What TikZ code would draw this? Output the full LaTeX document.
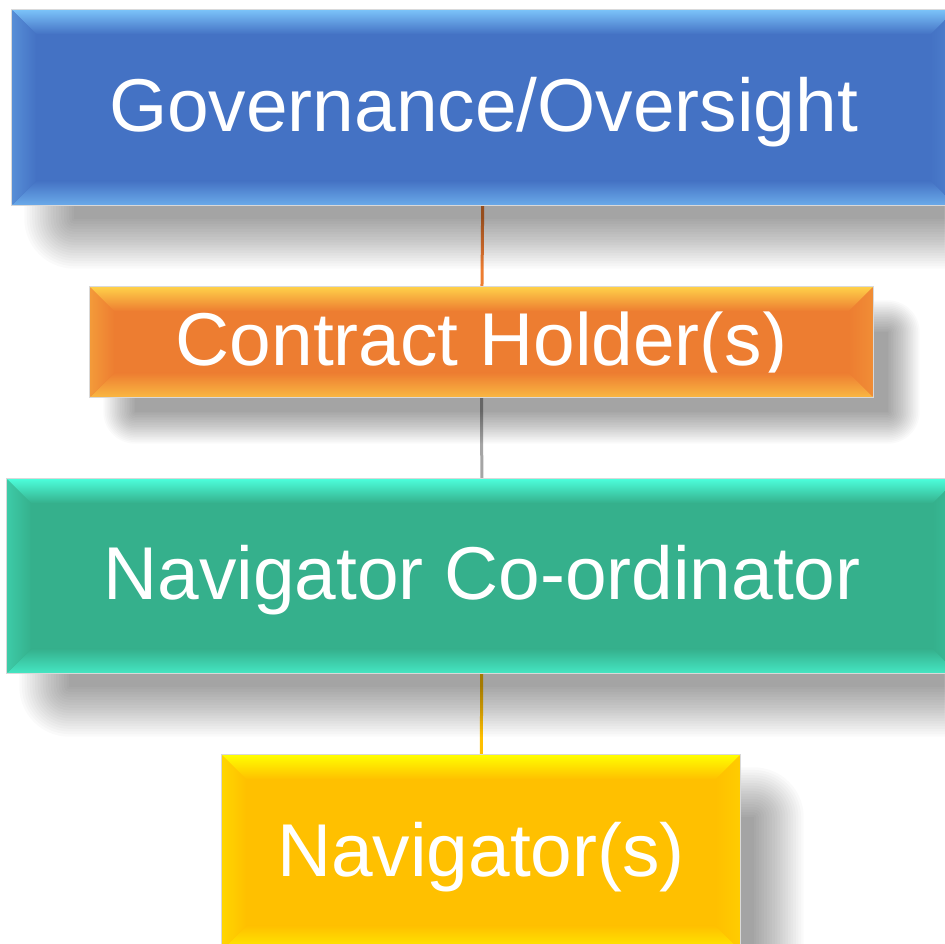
\documentclass[tikz,border=0pt]{standalone}
\usepackage{fontspec}
\setmainfont{Liberation Sans}
\usetikzlibrary{backgrounds}
\definecolor{govblue}{HTML}{4472C4}
\definecolor{govlight}{HTML}{7CC4FA}
\definecolor{holderorange}{HTML}{ED7D31}
\definecolor{holderlight}{HTML}{FFD24A}
\definecolor{coordteal}{HTML}{35B08C}
\definecolor{coordlight}{HTML}{4CFFDC}
\definecolor{navyellow}{HTML}{FFC000}
\definecolor{navlight}{HTML}{FFFF00}
\definecolor{linkgray}{HTML}{A5A5A5}
\begin{document}
\begin{tikzpicture}
\tikzset{level/.style={rectangle, draw=black!15, line width=0.4pt, text=white, inner sep=0pt,
    font=\fontsize{21.3}{25}\selectfont, text height=13.5pt, text depth=0pt},
  link/.style={line width=0.03cm}}
    \useasboundingbox (0,0) rectangle (9.44,-9.44);

    \node[level, fill=govblue, minimum width=9.43cm, minimum height=1.95cm] at (4.835,-1.075) (gov) {Governance/Oversight};
    \node[level, fill=holderorange, minimum width=7.83cm, minimum height=1.10cm] at (4.815,-3.42) (holder) {Contract Holder(s)};
    \node[level, fill=coordteal, minimum width=9.5cm, minimum height=1.94cm] at (4.82,-5.76) (coord) {Navigator Co-ordinator};
    \node[level, fill=navyellow, minimum width=5.18cm, minimum height=1.95cm] at (4.81,-8.525) (nav) {Navigator(s)};

    % bevelled edges
    \foreach \n/\c/\l in {gov/govblue/govlight, holder/holderorange/holderlight, coord/coordteal/coordlight, nav/navyellow/navlight}{
      \shade[top color=\l, bottom color=\c] (\n.north west) -- (\n.north east) -- ([shift={(-0.25,-0.25)}]\n.north east) -- ([shift={(0.25,-0.25)}]\n.north west) -- cycle;
      \shade[top color=\c, bottom color=\l!70!\c] (\n.south west) -- (\n.south east) -- ([shift={(-0.25,0.25)}]\n.south east) -- ([shift={(0.25,0.25)}]\n.south west) -- cycle;
      \shade[left color=\l!35!\c, right color=\c] (\n.north west) -- ([shift={(0.25,-0.25)}]\n.north west) -- ([shift={(0.25,0.25)}]\n.south west) -- (\n.south west) -- cycle;
      \shade[left color=\c, right color=\l!20!\c] (\n.north east) -- ([shift={(-0.25,-0.25)}]\n.north east) -- ([shift={(-0.25,0.25)}]\n.south east) -- (\n.south east) -- cycle;
      \draw[black!15, line width=0.4pt] (\n.north west) rectangle (\n.south east);
    }

    \begin{scope}[on background layer]
    \fill[white] (0,0) rectangle (9.44,-9.44);
    \draw[link, holderorange] (gov) -- (holder);
    \draw[link, linkgray] (holder) -- (coord);
    \draw[link, navyellow] (coord) -- (nav);
    % soft shadows, offset down and right
    \foreach \n/\s/\r in {gov/0.38/0.25, holder/0.3/0.16, coord/0.38/0.25, nav/0.38/0.25}{
      \foreach \i in {0,...,19}{
        \fill[black, opacity=0.0177, rounded corners=\i*\r*2.995pt]
          ([shift={(\s+\r-\i*\r/9.5,-\s+\r-\i*\r/9.5)}]\n.south west) rectangle
          ([shift={(\s-\r+\i*\r/9.5,-\s-\r+\i*\r/9.5)}]\n.north east);
      }
    }
    \end{scope}
\end{tikzpicture}
\end{document}
